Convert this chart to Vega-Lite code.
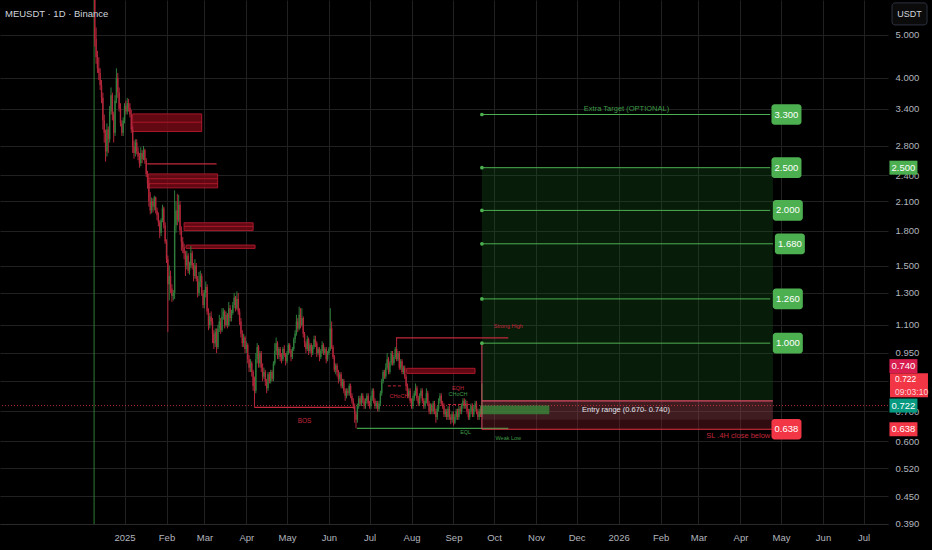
{
"$schema":"https://vega.github.io/schema/vega-lite/v6.json",
"width":888,"height":524,
"autosize":{"type":"none"},
"padding":{"left":0,"top":0,"right":44,"bottom":26},
"background":"#000000",
"config":{"view":{"stroke":null},"font":"Liberation Sans","axis":{"gridColor":"#212121","labelColor":"#b2b5be","labelFontSize":9.5,"ticks":false}},
"resolve":{"scale":{"color":"independent","size":"independent"}},
"datasets":{
"candles":[
{"t":"2024-12-10","o":7.5,"h":8,"l":4.7,"c":4.9},
{"t":"2024-12-11","o":4.9,"h":5.2,"l":4.3,"c":4.45},
{"t":"2024-12-12","o":4.45,"h":4.6,"l":4.1,"c":4.2},
{"t":"2024-12-13","o":4.2,"h":4.45,"l":3.95,"c":4.1},
{"t":"2024-12-14","o":4.1,"h":4.2,"l":3.75,"c":3.85},
{"t":"2024-12-15","o":3.85,"h":3.95,"l":3.5,"c":3.6},
{"t":"2024-12-16","o":3.6,"h":3.7,"l":3.05,"c":3.2},
{"t":"2024-12-17","o":3.2,"h":3.3,"l":2.85,"c":3.0},
{"t":"2024-12-18","o":3.0,"h":3.05,"l":2.58,"c":2.72},
{"t":"2024-12-19","o":2.72,"h":3.15,"l":2.65,"c":3.05},
{"t":"2024-12-20","o":3.05,"h":3.1,"l":2.7,"c":2.9},
{"t":"2024-12-21","o":2.9,"h":3.45,"l":2.85,"c":3.35},
{"t":"2024-12-22","o":3.35,"h":3.8,"l":3.3,"c":3.65},
{"t":"2024-12-23","o":3.65,"h":3.7,"l":3.2,"c":3.3},
{"t":"2024-12-24","o":3.3,"h":3.35,"l":2.85,"c":3.0},
{"t":"2024-12-25","o":3.0,"h":3.65,"l":2.95,"c":3.55},
{"t":"2024-12-26","o":3.55,"h":4.2,"l":3.5,"c":4.0},
{"t":"2024-12-27","o":4.0,"h":4.1,"l":3.6,"c":3.7},
{"t":"2024-12-28","o":3.7,"h":3.8,"l":3.35,"c":3.4},
{"t":"2024-12-29","o":3.4,"h":3.5,"l":3.1,"c":3.15},
{"t":"2024-12-30","o":3.15,"h":3.2,"l":2.95,"c":3.0},
{"t":"2024-12-31","o":3.0,"h":3.25,"l":2.95,"c":3.2},
{"t":"2025-01-01","o":3.2,"h":3.5,"l":3.15,"c":3.45},
{"t":"2025-01-02","o":3.45,"h":3.55,"l":3.3,"c":3.35},
{"t":"2025-01-03","o":3.35,"h":3.6,"l":3.3,"c":3.5},
{"t":"2025-01-04","o":3.5,"h":3.58,"l":3.35,"c":3.42},
{"t":"2025-01-05","o":3.42,"h":3.5,"l":3.25,"c":3.3},
{"t":"2025-01-06","o":3.3,"h":3.38,"l":3.0,"c":3.05},
{"t":"2025-01-07","o":3.05,"h":3.1,"l":2.7,"c":2.8},
{"t":"2025-01-08","o":2.8,"h":2.88,"l":2.62,"c":2.7},
{"t":"2025-01-09","o":2.7,"h":2.9,"l":2.65,"c":2.85},
{"t":"2025-01-10","o":2.85,"h":2.9,"l":2.68,"c":2.72},
{"t":"2025-01-11","o":2.72,"h":2.78,"l":2.6,"c":2.65},
{"t":"2025-01-12","o":2.65,"h":2.7,"l":2.5,"c":2.56},
{"t":"2025-01-13","o":2.56,"h":2.78,"l":2.52,"c":2.7},
{"t":"2025-01-14","o":2.7,"h":2.74,"l":2.56,"c":2.62},
{"t":"2025-01-15","o":2.62,"h":2.8,"l":2.6,"c":2.74},
{"t":"2025-01-16","o":2.74,"h":2.76,"l":2.55,"c":2.6},
{"t":"2025-01-17","o":2.6,"h":2.63,"l":2.38,"c":2.42},
{"t":"2025-01-18","o":2.42,"h":2.46,"l":2.24,"c":2.3},
{"t":"2025-01-19","o":2.3,"h":2.34,"l":2.04,"c":2.1},
{"t":"2025-01-20","o":2.1,"h":2.2,"l":1.96,"c":2.0},
{"t":"2025-01-21","o":2.0,"h":2.14,"l":1.97,"c":2.1},
{"t":"2025-01-22","o":2.1,"h":2.13,"l":1.98,"c":2.04},
{"t":"2025-01-23","o":2.04,"h":2.16,"l":2.0,"c":2.14},
{"t":"2025-01-24","o":2.14,"h":2.15,"l":1.97,"c":2.0},
{"t":"2025-01-25","o":2.0,"h":2.03,"l":1.9,"c":1.95},
{"t":"2025-01-26","o":1.95,"h":1.98,"l":1.84,"c":1.88},
{"t":"2025-01-27","o":1.88,"h":1.9,"l":1.73,"c":1.78},
{"t":"2025-01-28","o":1.78,"h":1.92,"l":1.75,"c":1.9},
{"t":"2025-01-29","o":1.9,"h":2.06,"l":1.88,"c":2.02},
{"t":"2025-01-30","o":2.02,"h":2.04,"l":1.82,"c":1.85},
{"t":"2025-01-31","o":1.85,"h":1.88,"l":1.68,"c":1.7},
{"t":"2025-02-01","o":1.7,"h":1.72,"l":1.52,"c":1.55},
{"t":"2025-02-02","o":1.55,"h":1.58,"l":1.06,"c":1.36},
{"t":"2025-02-03","o":1.36,"h":1.5,"l":1.25,"c":1.42},
{"t":"2025-02-04","o":1.42,"h":1.46,"l":1.3,"c":1.33},
{"t":"2025-02-05","o":1.33,"h":1.36,"l":1.24,"c":1.28},
{"t":"2025-02-06","o":1.28,"h":1.32,"l":1.25,"c":1.3},
{"t":"2025-02-07","o":1.3,"h":2.22,"l":1.26,"c":1.85},
{"t":"2025-02-08","o":1.85,"h":2.1,"l":1.78,"c":2.0},
{"t":"2025-02-09","o":2.0,"h":2.18,"l":1.85,"c":1.9},
{"t":"2025-02-10","o":1.9,"h":2.17,"l":1.88,"c":2.06},
{"t":"2025-02-11","o":2.06,"h":2.1,"l":1.76,"c":1.8},
{"t":"2025-02-12","o":1.8,"h":1.84,"l":1.62,"c":1.7},
{"t":"2025-02-13","o":1.7,"h":1.74,"l":1.6,"c":1.65},
{"t":"2025-02-14","o":1.65,"h":1.68,"l":1.55,"c":1.6},
{"t":"2025-02-15","o":1.6,"h":1.62,"l":1.42,"c":1.5},
{"t":"2025-02-16","o":1.5,"h":1.62,"l":1.47,"c":1.58},
{"t":"2025-02-17","o":1.58,"h":1.6,"l":1.44,"c":1.46},
{"t":"2025-02-18","o":1.46,"h":1.53,"l":1.43,"c":1.5},
{"t":"2025-02-19","o":1.5,"h":1.66,"l":1.48,"c":1.6},
{"t":"2025-02-20","o":1.6,"h":1.62,"l":1.47,"c":1.5},
{"t":"2025-02-21","o":1.5,"h":1.52,"l":1.38,"c":1.42},
{"t":"2025-02-22","o":1.42,"h":1.55,"l":1.4,"c":1.5},
{"t":"2025-02-23","o":1.5,"h":1.52,"l":1.38,"c":1.4},
{"t":"2025-02-24","o":1.4,"h":1.42,"l":1.27,"c":1.3},
{"t":"2025-02-25","o":1.3,"h":1.45,"l":1.28,"c":1.38},
{"t":"2025-02-26","o":1.38,"h":1.46,"l":1.34,"c":1.42},
{"t":"2025-02-27","o":1.42,"h":1.44,"l":1.28,"c":1.3},
{"t":"2025-02-28","o":1.3,"h":1.32,"l":1.2,"c":1.22},
{"t":"2025-03-01","o":1.22,"h":1.32,"l":1.2,"c":1.3},
{"t":"2025-03-02","o":1.3,"h":1.38,"l":1.27,"c":1.34},
{"t":"2025-03-03","o":1.34,"h":1.36,"l":1.16,"c":1.18},
{"t":"2025-03-04","o":1.18,"h":1.2,"l":1.07,"c":1.1},
{"t":"2025-03-05","o":1.1,"h":1.17,"l":1.08,"c":1.15},
{"t":"2025-03-06","o":1.15,"h":1.18,"l":1.1,"c":1.12},
{"t":"2025-03-07","o":1.12,"h":1.14,"l":1.0,"c":1.05},
{"t":"2025-03-08","o":1.05,"h":1.07,"l":0.97,"c":1.0},
{"t":"2025-03-09","o":1.0,"h":1.08,"l":0.98,"c":1.06},
{"t":"2025-03-10","o":1.06,"h":1.08,"l":0.95,"c":0.98},
{"t":"2025-03-11","o":0.98,"h":1.1,"l":0.97,"c":1.08},
{"t":"2025-03-12","o":1.08,"h":1.16,"l":1.06,"c":1.12},
{"t":"2025-03-13","o":1.12,"h":1.14,"l":1.05,"c":1.07},
{"t":"2025-03-14","o":1.07,"h":1.2,"l":1.06,"c":1.15},
{"t":"2025-03-15","o":1.15,"h":1.2,"l":1.13,"c":1.18},
{"t":"2025-03-16","o":1.18,"h":1.19,"l":1.08,"c":1.1},
{"t":"2025-03-17","o":1.1,"h":1.18,"l":1.09,"c":1.16},
{"t":"2025-03-18","o":1.16,"h":1.17,"l":1.08,"c":1.1},
{"t":"2025-03-19","o":1.1,"h":1.24,"l":1.09,"c":1.2},
{"t":"2025-03-20","o":1.2,"h":1.22,"l":1.12,"c":1.14},
{"t":"2025-03-21","o":1.14,"h":1.19,"l":1.12,"c":1.17},
{"t":"2025-03-22","o":1.17,"h":1.24,"l":1.16,"c":1.22},
{"t":"2025-03-23","o":1.22,"h":1.3,"l":1.2,"c":1.27},
{"t":"2025-03-24","o":1.27,"h":1.28,"l":1.18,"c":1.2},
{"t":"2025-03-25","o":1.2,"h":1.31,"l":1.19,"c":1.26},
{"t":"2025-03-26","o":1.26,"h":1.3,"l":1.16,"c":1.18},
{"t":"2025-03-27","o":1.18,"h":1.2,"l":1.1,"c":1.12},
{"t":"2025-03-28","o":1.12,"h":1.14,"l":1.03,"c":1.05},
{"t":"2025-03-29","o":1.05,"h":1.07,"l":0.98,"c":1.0},
{"t":"2025-03-30","o":1.0,"h":1.05,"l":0.98,"c":1.03},
{"t":"2025-03-31","o":1.03,"h":1.04,"l":0.95,"c":0.97},
{"t":"2025-04-01","o":0.97,"h":1.01,"l":0.95,"c":0.99},
{"t":"2025-04-02","o":0.99,"h":1.0,"l":0.9,"c":0.92},
{"t":"2025-04-03","o":0.92,"h":0.94,"l":0.86,"c":0.88},
{"t":"2025-04-04","o":0.88,"h":0.92,"l":0.86,"c":0.9},
{"t":"2025-04-05","o":0.9,"h":0.91,"l":0.84,"c":0.86},
{"t":"2025-04-06","o":0.86,"h":0.87,"l":0.78,"c":0.8},
{"t":"2025-04-07","o":0.8,"h":0.84,"l":0.715,"c":0.78},
{"t":"2025-04-08","o":0.78,"h":0.95,"l":0.77,"c":0.92},
{"t":"2025-04-09","o":0.92,"h":1.0,"l":0.9,"c":0.98},
{"t":"2025-04-10","o":0.98,"h":0.99,"l":0.88,"c":0.9},
{"t":"2025-04-11","o":0.9,"h":0.96,"l":0.88,"c":0.95},
{"t":"2025-04-12","o":0.95,"h":0.96,"l":0.86,"c":0.88},
{"t":"2025-04-13","o":0.88,"h":0.9,"l":0.82,"c":0.84},
{"t":"2025-04-14","o":0.84,"h":0.88,"l":0.83,"c":0.86},
{"t":"2025-04-15","o":0.86,"h":0.87,"l":0.8,"c":0.82},
{"t":"2025-04-16","o":0.82,"h":0.83,"l":0.77,"c":0.79},
{"t":"2025-04-17","o":0.79,"h":0.86,"l":0.78,"c":0.85},
{"t":"2025-04-18","o":0.85,"h":0.86,"l":0.81,"c":0.82},
{"t":"2025-04-19","o":0.82,"h":0.87,"l":0.81,"c":0.86},
{"t":"2025-04-20","o":0.86,"h":0.87,"l":0.82,"c":0.83},
{"t":"2025-04-21","o":0.83,"h":0.91,"l":0.82,"c":0.9},
{"t":"2025-04-22","o":0.9,"h":1.0,"l":0.89,"c":0.96},
{"t":"2025-04-23","o":0.96,"h":1.03,"l":0.94,"c":1.0},
{"t":"2025-04-24","o":1.0,"h":1.01,"l":0.92,"c":0.94},
{"t":"2025-04-25","o":0.94,"h":0.98,"l":0.92,"c":0.97},
{"t":"2025-04-26","o":0.97,"h":0.98,"l":0.91,"c":0.93},
{"t":"2025-04-27","o":0.93,"h":0.95,"l":0.9,"c":0.92},
{"t":"2025-04-28","o":0.92,"h":0.98,"l":0.91,"c":0.97},
{"t":"2025-04-29","o":0.97,"h":0.99,"l":0.93,"c":0.94},
{"t":"2025-04-30","o":0.94,"h":0.95,"l":0.89,"c":0.91},
{"t":"2025-05-01","o":0.91,"h":0.96,"l":0.9,"c":0.95},
{"t":"2025-05-02","o":0.95,"h":1.0,"l":0.94,"c":0.99},
{"t":"2025-05-03","o":0.99,"h":1.0,"l":0.95,"c":0.96},
{"t":"2025-05-04","o":0.96,"h":0.97,"l":0.91,"c":0.93},
{"t":"2025-05-05","o":0.93,"h":0.98,"l":0.92,"c":0.97},
{"t":"2025-05-06","o":0.97,"h":1.03,"l":0.96,"c":1.02},
{"t":"2025-05-07","o":1.02,"h":1.07,"l":1.0,"c":1.05},
{"t":"2025-05-08","o":1.05,"h":1.16,"l":1.04,"c":1.12},
{"t":"2025-05-09","o":1.12,"h":1.14,"l":1.06,"c":1.08},
{"t":"2025-05-10","o":1.08,"h":1.21,"l":1.07,"c":1.16},
{"t":"2025-05-11","o":1.16,"h":1.2,"l":1.08,"c":1.1},
{"t":"2025-05-12","o":1.1,"h":1.2,"l":1.09,"c":1.14},
{"t":"2025-05-13","o":1.14,"h":1.15,"l":1.03,"c":1.05},
{"t":"2025-05-14","o":1.05,"h":1.06,"l":0.98,"c":1.0},
{"t":"2025-05-15","o":1.0,"h":1.01,"l":0.95,"c":0.97},
{"t":"2025-05-16","o":0.97,"h":1.04,"l":0.96,"c":1.02},
{"t":"2025-05-17","o":1.02,"h":1.03,"l":0.94,"c":0.96},
{"t":"2025-05-18","o":0.96,"h":1.0,"l":0.95,"c":0.99},
{"t":"2025-05-19","o":0.99,"h":1.0,"l":0.93,"c":0.95},
{"t":"2025-05-20","o":0.95,"h":0.99,"l":0.94,"c":0.98},
{"t":"2025-05-21","o":0.98,"h":1.04,"l":0.97,"c":1.02},
{"t":"2025-05-22","o":1.02,"h":1.04,"l":0.98,"c":1.0},
{"t":"2025-05-23","o":1.0,"h":1.01,"l":0.93,"c":0.95},
{"t":"2025-05-24","o":0.95,"h":0.98,"l":0.94,"c":0.97},
{"t":"2025-05-25","o":0.97,"h":0.98,"l":0.91,"c":0.93},
{"t":"2025-05-26","o":0.93,"h":0.97,"l":0.92,"c":0.96},
{"t":"2025-05-27","o":0.96,"h":1.01,"l":0.95,"c":0.99},
{"t":"2025-05-28","o":0.99,"h":1.0,"l":0.94,"c":0.95},
{"t":"2025-05-29","o":0.95,"h":0.98,"l":0.94,"c":0.97},
{"t":"2025-05-30","o":0.97,"h":0.98,"l":0.9,"c":0.92},
{"t":"2025-05-31","o":0.92,"h":0.96,"l":0.91,"c":0.95},
{"t":"2025-06-01","o":0.95,"h":0.98,"l":0.94,"c":0.97},
{"t":"2025-06-02","o":0.97,"h":1.2,"l":0.96,"c":1.08},
{"t":"2025-06-03","o":1.08,"h":1.12,"l":0.97,"c":0.98},
{"t":"2025-06-04","o":0.98,"h":0.99,"l":0.92,"c":0.93},
{"t":"2025-06-05","o":0.93,"h":0.94,"l":0.86,"c":0.87},
{"t":"2025-06-06","o":0.87,"h":0.9,"l":0.85,"c":0.89},
{"t":"2025-06-07","o":0.89,"h":0.9,"l":0.84,"c":0.86},
{"t":"2025-06-08","o":0.86,"h":0.87,"l":0.81,"c":0.83},
{"t":"2025-06-09","o":0.83,"h":0.86,"l":0.82,"c":0.85},
{"t":"2025-06-10","o":0.85,"h":0.86,"l":0.79,"c":0.8},
{"t":"2025-06-11","o":0.8,"h":0.83,"l":0.79,"c":0.82},
{"t":"2025-06-12","o":0.82,"h":0.83,"l":0.77,"c":0.78},
{"t":"2025-06-13","o":0.78,"h":0.79,"l":0.74,"c":0.76},
{"t":"2025-06-14","o":0.76,"h":0.79,"l":0.75,"c":0.78},
{"t":"2025-06-15","o":0.78,"h":0.79,"l":0.76,"c":0.77},
{"t":"2025-06-16","o":0.77,"h":0.81,"l":0.76,"c":0.8},
{"t":"2025-06-17","o":0.8,"h":0.81,"l":0.75,"c":0.76},
{"t":"2025-06-18","o":0.76,"h":0.77,"l":0.73,"c":0.74},
{"t":"2025-06-19","o":0.74,"h":0.75,"l":0.71,"c":0.72},
{"t":"2025-06-20","o":0.72,"h":0.73,"l":0.66,"c":0.69},
{"t":"2025-06-21","o":0.69,"h":0.7,"l":0.641,"c":0.67},
{"t":"2025-06-22","o":0.67,"h":0.73,"l":0.66,"c":0.72},
{"t":"2025-06-23","o":0.72,"h":0.76,"l":0.71,"c":0.75},
{"t":"2025-06-24","o":0.75,"h":0.76,"l":0.72,"c":0.73},
{"t":"2025-06-25","o":0.73,"h":0.77,"l":0.72,"c":0.76},
{"t":"2025-06-26","o":0.76,"h":0.77,"l":0.73,"c":0.74},
{"t":"2025-06-27","o":0.74,"h":0.75,"l":0.71,"c":0.72},
{"t":"2025-06-28","o":0.72,"h":0.75,"l":0.71,"c":0.74},
{"t":"2025-06-29","o":0.74,"h":0.77,"l":0.73,"c":0.76},
{"t":"2025-06-30","o":0.76,"h":0.77,"l":0.72,"c":0.73},
{"t":"2025-07-01","o":0.73,"h":0.74,"l":0.71,"c":0.72},
{"t":"2025-07-02","o":0.72,"h":0.76,"l":0.71,"c":0.75},
{"t":"2025-07-03","o":0.75,"h":0.79,"l":0.74,"c":0.78},
{"t":"2025-07-04","o":0.78,"h":0.79,"l":0.73,"c":0.74},
{"t":"2025-07-05","o":0.74,"h":0.75,"l":0.71,"c":0.72},
{"t":"2025-07-06","o":0.72,"h":0.74,"l":0.71,"c":0.73},
{"t":"2025-07-07","o":0.73,"h":0.74,"l":0.7,"c":0.71},
{"t":"2025-07-08","o":0.71,"h":0.74,"l":0.7,"c":0.73},
{"t":"2025-07-09","o":0.73,"h":0.78,"l":0.72,"c":0.77},
{"t":"2025-07-10","o":0.77,"h":0.83,"l":0.76,"c":0.82},
{"t":"2025-07-11","o":0.82,"h":0.87,"l":0.81,"c":0.86},
{"t":"2025-07-12","o":0.86,"h":0.87,"l":0.83,"c":0.84},
{"t":"2025-07-13","o":0.84,"h":0.9,"l":0.83,"c":0.88},
{"t":"2025-07-14","o":0.88,"h":0.95,"l":0.87,"c":0.92},
{"t":"2025-07-15","o":0.92,"h":0.93,"l":0.85,"c":0.86},
{"t":"2025-07-16","o":0.86,"h":0.91,"l":0.85,"c":0.9},
{"t":"2025-07-17","o":0.9,"h":0.96,"l":0.89,"c":0.95},
{"t":"2025-07-18","o":0.95,"h":0.96,"l":0.89,"c":0.9},
{"t":"2025-07-19","o":0.9,"h":0.94,"l":0.89,"c":0.93},
{"t":"2025-07-20","o":0.93,"h":0.98,"l":0.92,"c":0.97},
{"t":"2025-07-21","o":0.97,"h":1.028,"l":0.91,"c":0.92},
{"t":"2025-07-22","o":0.92,"h":0.96,"l":0.91,"c":0.95},
{"t":"2025-07-23","o":0.95,"h":0.96,"l":0.87,"c":0.88},
{"t":"2025-07-24","o":0.88,"h":0.92,"l":0.87,"c":0.91},
{"t":"2025-07-25","o":0.91,"h":0.92,"l":0.85,"c":0.86},
{"t":"2025-07-26","o":0.86,"h":0.89,"l":0.85,"c":0.88},
{"t":"2025-07-27","o":0.88,"h":0.89,"l":0.83,"c":0.84},
{"t":"2025-07-28","o":0.84,"h":0.85,"l":0.78,"c":0.8},
{"t":"2025-07-29","o":0.8,"h":0.81,"l":0.75,"c":0.76},
{"t":"2025-07-30","o":0.76,"h":0.79,"l":0.75,"c":0.78},
{"t":"2025-07-31","o":0.78,"h":0.79,"l":0.73,"c":0.74},
{"t":"2025-08-01","o":0.74,"h":0.75,"l":0.71,"c":0.72},
{"t":"2025-08-02","o":0.72,"h":0.76,"l":0.71,"c":0.75},
{"t":"2025-08-03","o":0.75,"h":0.78,"l":0.74,"c":0.77},
{"t":"2025-08-04","o":0.77,"h":0.81,"l":0.76,"c":0.79},
{"t":"2025-08-05","o":0.79,"h":0.8,"l":0.74,"c":0.75},
{"t":"2025-08-06","o":0.75,"h":0.76,"l":0.72,"c":0.73},
{"t":"2025-08-07","o":0.73,"h":0.77,"l":0.72,"c":0.76},
{"t":"2025-08-08","o":0.76,"h":0.79,"l":0.75,"c":0.78},
{"t":"2025-08-09","o":0.78,"h":0.79,"l":0.73,"c":0.74},
{"t":"2025-08-10","o":0.74,"h":0.75,"l":0.71,"c":0.72},
{"t":"2025-08-11","o":0.72,"h":0.75,"l":0.71,"c":0.74},
{"t":"2025-08-12","o":0.74,"h":0.79,"l":0.73,"c":0.77},
{"t":"2025-08-13","o":0.77,"h":0.78,"l":0.72,"c":0.73},
{"t":"2025-08-14","o":0.73,"h":0.74,"l":0.69,"c":0.7},
{"t":"2025-08-15","o":0.7,"h":0.73,"l":0.69,"c":0.72},
{"t":"2025-08-16","o":0.72,"h":0.73,"l":0.69,"c":0.7},
{"t":"2025-08-17","o":0.7,"h":0.74,"l":0.69,"c":0.73},
{"t":"2025-08-18","o":0.73,"h":0.74,"l":0.69,"c":0.7},
{"t":"2025-08-19","o":0.7,"h":0.71,"l":0.66,"c":0.68},
{"t":"2025-08-20","o":0.68,"h":0.72,"l":0.67,"c":0.71},
{"t":"2025-08-21","o":0.71,"h":0.75,"l":0.7,"c":0.74},
{"t":"2025-08-22","o":0.74,"h":0.77,"l":0.73,"c":0.76},
{"t":"2025-08-23","o":0.76,"h":0.77,"l":0.72,"c":0.73},
{"t":"2025-08-24","o":0.73,"h":0.74,"l":0.71,"c":0.72},
{"t":"2025-08-25","o":0.72,"h":0.73,"l":0.68,"c":0.69},
{"t":"2025-08-26","o":0.69,"h":0.71,"l":0.68,"c":0.7},
{"t":"2025-08-27","o":0.7,"h":0.71,"l":0.67,"c":0.68},
{"t":"2025-08-28","o":0.68,"h":0.72,"l":0.67,"c":0.71},
{"t":"2025-08-29","o":0.71,"h":0.72,"l":0.67,"c":0.68},
{"t":"2025-08-30","o":0.68,"h":0.69,"l":0.655,"c":0.67},
{"t":"2025-08-31","o":0.67,"h":0.7,"l":0.66,"c":0.69},
{"t":"2025-09-01","o":0.69,"h":0.7,"l":0.65,"c":0.66},
{"t":"2025-09-02","o":0.66,"h":0.69,"l":0.655,"c":0.68},
{"t":"2025-09-03","o":0.68,"h":0.71,"l":0.67,"c":0.7},
{"t":"2025-09-04","o":0.7,"h":0.71,"l":0.67,"c":0.68},
{"t":"2025-09-05","o":0.68,"h":0.72,"l":0.67,"c":0.71},
{"t":"2025-09-06","o":0.71,"h":0.72,"l":0.69,"c":0.7},
{"t":"2025-09-07","o":0.7,"h":0.73,"l":0.69,"c":0.72},
{"t":"2025-09-08","o":0.72,"h":0.75,"l":0.71,"c":0.74},
{"t":"2025-09-09","o":0.74,"h":0.75,"l":0.71,"c":0.72},
{"t":"2025-09-10","o":0.72,"h":0.745,"l":0.71,"c":0.73},
{"t":"2025-09-11","o":0.73,"h":0.74,"l":0.69,"c":0.7},
{"t":"2025-09-12","o":0.7,"h":0.71,"l":0.67,"c":0.68},
{"t":"2025-09-13","o":0.68,"h":0.71,"l":0.67,"c":0.7},
{"t":"2025-09-14","o":0.7,"h":0.73,"l":0.69,"c":0.72},
{"t":"2025-09-15","o":0.72,"h":0.73,"l":0.68,"c":0.69},
{"t":"2025-09-16","o":0.69,"h":0.72,"l":0.68,"c":0.71},
{"t":"2025-09-17","o":0.71,"h":0.74,"l":0.7,"c":0.73},
{"t":"2025-09-18","o":0.73,"h":0.74,"l":0.69,"c":0.7},
{"t":"2025-09-19","o":0.7,"h":0.71,"l":0.67,"c":0.68},
{"t":"2025-09-20","o":0.68,"h":0.71,"l":0.67,"c":0.7},
{"t":"2025-09-21","o":0.7,"h":0.71,"l":0.68,"c":0.69},
{"t":"2025-09-22","o":0.69,"h":0.81,"l":0.68,"c":0.722}
],
"zones":[
{"t":"2025-01-07","t2":"2025-02-27","p":3.02,"p2":3.31},
{"t":"2025-01-18T14:00","t2":"2025-03-10T19:00","p":2.25,"p2":2.42},
{"t":"2025-02-14","t2":"2025-04-06","p":1.8,"p2":1.875},
{"t":"2025-02-15T10:00","t2":"2025-04-07T10:00","p":1.64,"p2":1.669},
{"t":"2025-07-28T10:00","t2":"2025-09-16T22:00","p":0.854,"p2":0.877}
],
"zlines":[
{"t":"2025-01-07","t2":"2025-02-27","p":3.17},
{"t":"2025-01-18T14:00","t2":"2025-03-10T19:00","p":2.36},
{"t":"2025-01-18T14:00","t2":"2025-03-10T19:00","p":2.3},
{"t":"2025-02-14","t2":"2025-04-06","p":1.84}
],
"launch":[{"t":"2024-12-09T12:00"}],
"last":[{"p":0.722}],
"levels":[
{"t":"2025-01-17T19:00","t2":"2025-03-10","p":2.55,"side":"bear"},
{"t":"2025-07-20T12:00","t2":"2025-10-11T12:00","p":1.028,"side":"bear"},
{"t":"2025-04-07","t2":"2025-06-20","p":0.715,"side":"bear"},
{"t":"2025-06-21T16:00","t2":"2025-10-11T12:00","p":0.641,"side":"bull"}
],
"dashes":[
{"t":"2025-07-14T14:00","t2":"2025-07-25","p":0.8},
{"t":"2025-08-28","t2":"2025-09-13","p":0.726}
],
"area":[{"t":"2025-09-22","t2":"2026-04-25","p":0.74,"p2":2.5}],
"slzone":[{"t":"2025-09-22","t2":"2026-04-25","p":0.638,"p2":0.74}],
"entryzone":[{"t":"2025-09-22","t2":"2026-04-25","p":0.67,"p2":0.74}],
"entrybar":[{"t":"2025-09-20T14:00","t2":"2025-11-10T19:00","p":0.69,"p2":0.722}],
"edges":[
{"t":"2025-09-22","t2":"2026-04-25","p":0.74,"side":"entry"},
{"t":"2025-09-22","t2":"2026-04-25","p":0.638,"side":"sl"}
],
"stem":[{"t":"2025-09-22","p":0.638,"p2":1.0}],
"targets":[
{"t":"2025-09-22","t2":"2026-04-23","p":3.3},
{"t":"2025-09-22","t2":"2026-04-23","p":2.5},
{"t":"2025-09-22","t2":"2026-04-23","p":2.0},
{"t":"2025-09-22","t2":"2026-04-25","p":1.68},
{"t":"2025-09-22","t2":"2026-04-23","p":1.26},
{"t":"2025-09-22","t2":"2026-04-23","p":1.0}
],
"boxes":[
{"t":"2026-05-05","p":3.3,"txt":"3.300","k":"tp"},
{"t":"2026-05-05","p":2.5,"txt":"2.500","k":"tp"},
{"t":"2026-05-06","p":2.0,"txt":"2.000","k":"tp"},
{"t":"2026-05-07T12:00","p":1.68,"txt":"1.680","k":"tp"},
{"t":"2026-05-06","p":1.26,"txt":"1.260","k":"tp"},
{"t":"2026-05-06","p":1.0,"txt":"1.000","k":"tp"},
{"t":"2026-05-05","p":0.638,"txt":"0.638","k":"sl"}
],
"notes":[
{"t":"2025-05-14","p":0.666,"txt":"BOS","side":"bear","grp":"small"},
{"t":"2025-10-11T12:00","p":1.092,"txt":"Strong High","side":"bear","grp":"tiny"},
{"t":"2025-10-11T12:00","p":0.61,"txt":"Weak Low","side":"bull","grp":"tiny"},
{"t":"2025-07-22T16:00","p":0.759,"txt":"CHoCH","side":"bear","grp":"tiny"},
{"t":"2025-09-04T08:00","p":0.79,"txt":"EQH","side":"bear","grp":"tiny"},
{"t":"2025-09-04T08:00","p":0.766,"txt":"CHoCH","side":"bull","grp":"tiny"},
{"t":"2025-09-10","p":0.629,"txt":"EQL","side":"bull","grp":"tiny"},
{"t":"2026-01-06T10:00","p":0.705,"txt":"Entry range   (0.670- 0.740)","side":"info","grp":"mid"},
{"t":"2026-03-30T10:00","p":0.615,"txt":"SL .4H close below","side":"bear","grp":"mid"},
{"t":"2026-01-06T20:00","p":3.4,"txt":"Extra Target (OPTIONAL)","side":"bull","grp":"mid"}
],
"head":[{"t":"2024-10-04T16:00","p":5.58,"txt":"MEUSDT · 1D · Binance"}],
"unit":[{"t":"2026-08-03T22:00","p":5.58,"txt":"USDT"}],
"rlab":[
{"t":"2026-07-30T10:00","p":2.5,"txt":"2.500","k":"tp"},
{"t":"2026-07-30T10:00","p":0.887,"txt":"0.740","k":"entry"},
{"t":"2026-07-30T10:00","p":0.722,"txt":"0.722","k":"last"},
{"t":"2026-07-30T10:00","p":0.638,"txt":"0.638","k":"sl"}
],
"timer":[{"t":"2026-08-03T12:00","p":0.803}],
"timertxt":[
{"t":"2026-07-24T05:00","p":0.829,"txt":"0.722","k":"price"},
{"t":"2026-07-24T05:00","p":0.776,"txt":"09:03:10","k":"clock"}
]
},
"layer":[
{"data":{"name":"area"},"mark":{"type":"rect","color":"#1b5e20","opacity":0.3},
 "encoding":{
  "x":{"field":"t","type":"temporal","scale":{"type":"utc","domain":[{"year":2024,"month":10,"date":1,"utc":true},{"year":2026,"month":7,"date":19,"utc":true}]},
   "axis":{"values":[{"year":2025,"month":1,"date":1,"utc":true},{"year":2025,"month":2,"date":1,"utc":true},{"year":2025,"month":3,"date":1,"utc":true},{"year":2025,"month":4,"date":1,"utc":true},{"year":2025,"month":5,"date":1,"utc":true},{"year":2025,"month":6,"date":1,"utc":true},{"year":2025,"month":7,"date":1,"utc":true},{"year":2025,"month":8,"date":1,"utc":true},{"year":2025,"month":9,"date":1,"utc":true},{"year":2025,"month":10,"date":1,"utc":true},{"year":2025,"month":11,"date":1,"utc":true},{"year":2025,"month":12,"date":1,"utc":true},{"year":2026,"month":1,"date":1,"utc":true},{"year":2026,"month":2,"date":1,"utc":true},{"year":2026,"month":3,"date":1,"utc":true},{"year":2026,"month":4,"date":1,"utc":true},{"year":2026,"month":5,"date":1,"utc":true},{"year":2026,"month":6,"date":1,"utc":true},{"year":2026,"month":7,"date":1,"utc":true}],
    "labelExpr":"utcmonth(datum.value) === 0 ? utcFormat(datum.value, '%Y') : utcFormat(datum.value, '%b')",
    "grid":true,"domain":true,"domainColor":"#2a2a2a","labelPadding":8,"title":null,"labelFlush":false,"labelOverlap":false}},
  "x2":{"field":"t2"},
  "y":{"field":"p","type":"quantitative","scale":{"type":"log","domain":[0.389,6.0],"nice":false},
   "axis":{"orient":"right","values":[0.39,0.45,0.52,0.6,0.7,0.82,0.95,1.1,1.3,1.5,1.8,2.1,2.4,2.8,3.4,4,5],"format":".3f","grid":true,"domain":false,"labelPadding":7,"title":null,"labelAlign":"left","labelOverlap":false,"labelFlush":false}},
  "y2":{"field":"p2"}}},
{"data":{"name":"zones"},"mark":{"type":"rect","fill":"#7a0a16","fillOpacity":0.8,"stroke":"#a8182b","strokeWidth":1},
 "encoding":{"x":{"field":"t","type":"temporal"},"x2":{"field":"t2"},"y":{"field":"p","type":"quantitative"},"y2":{"field":"p2"}}},
{"data":{"name":"zlines"},"mark":{"type":"rule","color":"#a8182b","strokeWidth":1},
 "encoding":{"x":{"field":"t","type":"temporal"},"x2":{"field":"t2"},"y":{"field":"p","type":"quantitative"}}},
{"data":{"name":"slzone"},"mark":{"type":"rect","color":"#7f1d2a","opacity":0.38},
 "encoding":{"x":{"field":"t","type":"temporal"},"x2":{"field":"t2"},"y":{"field":"p","type":"quantitative"},"y2":{"field":"p2"}}},
{"data":{"name":"entryzone"},"mark":{"type":"rect","color":"#ffffff","opacity":0.07},
 "encoding":{"x":{"field":"t","type":"temporal"},"x2":{"field":"t2"},"y":{"field":"p","type":"quantitative"},"y2":{"field":"p2"}}},
{"data":{"name":"last"},"mark":{"type":"rule","color":"#f23645","opacity":0.7,"strokeWidth":1,"strokeDash":[1,2]},
 "encoding":{"y":{"field":"p","type":"quantitative"}}},
{"data":{"name":"launch"},"mark":{"type":"rule","color":"#2e7d32","strokeWidth":1},
 "encoding":{"x":{"field":"t","type":"temporal"}}},
{"data":{"name":"candles"},"mark":{"type":"rule","clip":true,"strokeWidth":1},
 "encoding":{"x":{"field":"t","type":"temporal"},"y":{"field":"l","type":"quantitative"},"y2":{"field":"h"},
  "color":{"condition":{"test":"datum.c >= datum.o","value":"#2f7d3b"},"value":"#b3263a"}}},
{"data":{"name":"candles"},"mark":{"type":"rule","clip":true,"strokeWidth":1.4},
 "encoding":{"x":{"field":"t","type":"temporal"},"y":{"field":"o","type":"quantitative"},"y2":{"field":"c"},
  "color":{"condition":{"test":"datum.c >= datum.o","value":"#2f7d3b"},"value":"#b3263a"}}},
{"data":{"name":"levels"},"mark":{"type":"rule","strokeWidth":1.2},
 "encoding":{"x":{"field":"t","type":"temporal"},"x2":{"field":"t2"},"y":{"field":"p","type":"quantitative"},
  "color":{"field":"side","type":"nominal","scale":{"domain":["bear","bull"],"range":["#c2283c","#3f9a47"]},"legend":null}}},
{"data":{"name":"dashes"},"mark":{"type":"rule","color":"#c2283c","strokeWidth":1,"strokeDash":[3,2]},
 "encoding":{"x":{"field":"t","type":"temporal"},"x2":{"field":"t2"},"y":{"field":"p","type":"quantitative"}}},
{"data":{"name":"entrybar"},"mark":{"type":"rect","color":"#388e3c","opacity":0.75},
 "encoding":{"x":{"field":"t","type":"temporal"},"x2":{"field":"t2"},"y":{"field":"p","type":"quantitative"},"y2":{"field":"p2"}}},
{"data":{"name":"edges"},"mark":{"type":"rule","strokeWidth":1.2},
 "encoding":{"x":{"field":"t","type":"temporal"},"x2":{"field":"t2"},"y":{"field":"p","type":"quantitative"},
  "color":{"field":"side","type":"nominal","scale":{"domain":["entry","sl"],"range":["#d94d63","#e03040"]},"legend":null}}},
{"data":{"name":"stem"},"mark":{"type":"rule","color":"#d94d63","strokeWidth":1},
 "encoding":{"x":{"field":"t","type":"temporal"},"y":{"field":"p","type":"quantitative"},"y2":{"field":"p2"}}},
{"data":{"name":"targets"},"mark":{"type":"rule","color":"#4caf50","strokeWidth":1},
 "encoding":{"x":{"field":"t","type":"temporal"},"x2":{"field":"t2"},"y":{"field":"p","type":"quantitative"}}},
{"data":{"name":"targets"},"mark":{"type":"point","filled":true,"color":"#4caf50","size":14,"opacity":1},
 "encoding":{"x":{"field":"t","type":"temporal"},"y":{"field":"p","type":"quantitative"}}},
{"data":{"name":"notes"},"mark":{"type":"text","align":"center","baseline":"middle"},
 "encoding":{"x":{"field":"t","type":"temporal"},"y":{"field":"p","type":"quantitative"},"text":{"field":"txt"},
  "color":{"field":"side","type":"nominal","scale":{"domain":["bear","bull","info"],"range":["#c2283c","#3f9a47","#e0e3eb"]},"legend":null},
  "size":{"field":"grp","type":"nominal","scale":{"domain":["tiny","small","mid"],"range":[5.5,7.5,8.5]},"legend":null}}},
{"data":{"name":"boxes"},"mark":{"type":"point","filled":true,"opacity":1,"size":900,"shape":"M-0.8 -0.69H0.8A0.2 0.2 0 0 1 1 -0.49V0.49A0.2 0.2 0 0 1 0.8 0.69H-0.8A0.2 0.2 0 0 1 -1 0.49V-0.49A0.2 0.2 0 0 1 -0.8 -0.69Z","clip":false},
 "encoding":{"x":{"field":"t","type":"temporal"},"y":{"field":"p","type":"quantitative"},
  "color":{"field":"k","type":"nominal","scale":{"domain":["tp","sl"],"range":["#4caf50","#f23645"]},"legend":null}}},
{"data":{"name":"boxes"},"mark":{"type":"text","align":"center","baseline":"middle","color":"#ffffff","fontSize":9.5,"clip":false},
 "encoding":{"x":{"field":"t","type":"temporal"},"y":{"field":"p","type":"quantitative"},"text":{"field":"txt"}}},
{"data":{"name":"head"},"mark":{"type":"text","align":"left","baseline":"middle","color":"#d1d4dc","fontSize":9.5},
 "encoding":{"x":{"field":"t","type":"temporal"},"y":{"field":"p","type":"quantitative"},"text":{"field":"txt"}}},
{"data":{"name":"unit"},"mark":{"type":"point","filled":true,"opacity":1,"size":1225,"fill":"#0b0b0b","stroke":"#2e3240","strokeWidth":1,"shape":"M-0.83 -0.629H0.83A0.17 0.17 0 0 1 1 -0.459V0.459A0.17 0.17 0 0 1 0.83 0.629H-0.83A0.17 0.17 0 0 1 -1 0.459V-0.459A0.17 0.17 0 0 1 -0.83 -0.629Z","clip":false},
 "encoding":{"x":{"field":"t","type":"temporal"},"y":{"field":"p","type":"quantitative"}}},
{"data":{"name":"unit"},"mark":{"type":"text","align":"center","baseline":"middle","color":"#d1d4dc","fontSize":9,"clip":false},
 "encoding":{"x":{"field":"t","type":"temporal"},"y":{"field":"p","type":"quantitative"},"text":{"field":"txt"}}},
{"data":{"name":"timer"},"mark":{"type":"point","filled":true,"opacity":1,"size":1444,"color":"#f23645","shape":"M-1 -0.632H1V0.632H-1Z","clip":false},
 "encoding":{"x":{"field":"t","type":"temporal"},"y":{"field":"p","type":"quantitative"}}},
{"data":{"name":"rlab"},"mark":{"type":"point","filled":true,"opacity":1,"size":784,"shape":"M-1 -0.5H1V0.5H-1Z","clip":false},
 "encoding":{"x":{"field":"t","type":"temporal"},"y":{"field":"p","type":"quantitative"},
  "color":{"field":"k","type":"nominal","scale":{"domain":["tp","entry","last","sl"],"range":["#4caf50","#d81e4f","#089981","#f23645"]},"legend":null}}},
{"data":{"name":"rlab"},"mark":{"type":"text","align":"center","baseline":"middle","color":"#ffffff","fontSize":9.5,"clip":false},
 "encoding":{"x":{"field":"t","type":"temporal"},"y":{"field":"p","type":"quantitative"},"text":{"field":"txt"}}},
{"data":{"name":"timertxt"},"mark":{"type":"text","align":"left","baseline":"middle","fontSize":8.5,"clip":false},
 "encoding":{"x":{"field":"t","type":"temporal"},"y":{"field":"p","type":"quantitative"},"text":{"field":"txt"},
  "color":{"field":"k","type":"nominal","scale":{"domain":["price","clock"],"range":["#ffffff","#ffd5da"]},"legend":null}}}
]
}
